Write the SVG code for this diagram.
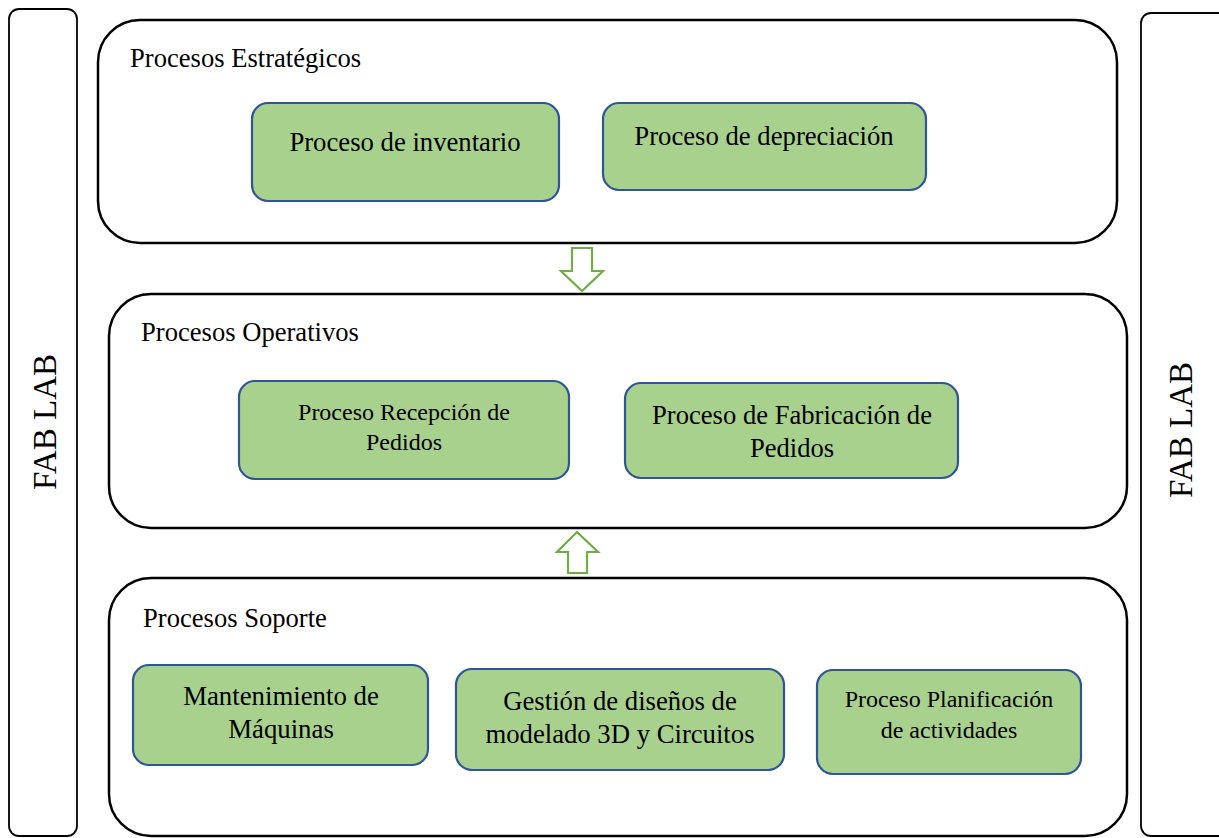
<svg xmlns="http://www.w3.org/2000/svg" width="1219" height="838" viewBox="0 0 1219 838" font-family="'Liberation Serif', 'Times New Roman', serif">
<style>
.frame{fill:#fff;stroke:#000;stroke-width:2.5}
.bar{fill:#fff;stroke:#000;stroke-width:1.8}
.node{fill:#A9D18E;stroke:#2F5597;stroke-width:2.2}
.arrow{fill:#fff;stroke:#70AD47;stroke-width:2.2}
text{font-family:'Liberation Serif','Times New Roman',serif;fill:#000}
.t{text-anchor:middle}
</style>
<rect width="1219" height="838" fill="#fff"/>
<g id="fablab-left"><rect class="bar" x="9" y="9" width="68" height="827" rx="10"/>
<text class="t" font-size="33" transform="translate(56,422) rotate(-90)">FAB LAB</text></g>
<g id="fablab-right"><rect class="bar" x="1141" y="13" width="100" height="823" rx="10"/>
<text class="t" font-size="33" transform="translate(1192,430) rotate(-90)">FAB LAB</text></g>
<g id="estrategicos"><rect class="frame" x="98" y="20" width="1019" height="223" rx="42"/>
<text x="130" y="67" font-size="26.6">Procesos Estratégicos</text></g>
<g id="operativos"><rect class="frame" x="109" y="294" width="1018" height="234" rx="42"/>
<text x="141" y="341" font-size="26.6">Procesos Operativos</text></g>
<g id="soporte"><rect class="frame" x="109" y="578" width="1018" height="258" rx="42"/>
<text x="143" y="627" font-size="26.6">Procesos Soporte</text></g>
<g id="inventario"><rect class="node" x="252" y="103" width="307" height="98" rx="16"/>
<text class="t" x="405" y="151" font-size="26.7">Proceso de inventario</text></g>
<g id="depreciacion"><rect class="node" x="603" y="103" width="323" height="87" rx="16"/>
<text class="t" x="764" y="145" font-size="26.7">Proceso de depreciación</text></g>
<g id="recepcion"><rect class="node" x="239" y="381" width="330" height="98" rx="16"/>
<text class="t" x="404" y="420" font-size="24">Proceso Recepción de</text>
<text class="t" x="404" y="450" font-size="24">Pedidos</text></g>
<g id="fabricacion"><rect class="node" x="625" y="383" width="333" height="95" rx="16"/>
<text class="t" x="792" y="424" font-size="26.6">Proceso de Fabricación de</text>
<text class="t" x="792" y="457" font-size="26.6">Pedidos</text></g>
<g id="mantenimiento"><rect class="node" x="133" y="665" width="295" height="100" rx="16"/>
<text class="t" x="281" y="705" font-size="26.8">Mantenimiento de</text>
<text class="t" x="281" y="738" font-size="26.8">Máquinas</text></g>
<g id="gestion"><rect class="node" x="456" y="669" width="328" height="101" rx="16"/>
<text class="t" x="620" y="710" font-size="26.7">Gestión de diseños de</text>
<text class="t" x="620" y="743" font-size="26.7">modelado 3D y Circuitos</text></g>
<g id="planificacion"><rect class="node" x="817" y="670" width="264" height="104" rx="16"/>
<text class="t" x="949" y="707" font-size="24">Proceso Planificación</text>
<text class="t" x="949" y="738" font-size="24">de actividades</text></g>
<g id="connectors">
<path class="arrow" d="M572,248 H592 V271 H603 L582,291 L561,271 H572 Z"/>
<path class="arrow" d="M568,573 V552 H557 L577,532 L598,552 H587 V573 Z"/>
</g>
</svg>
